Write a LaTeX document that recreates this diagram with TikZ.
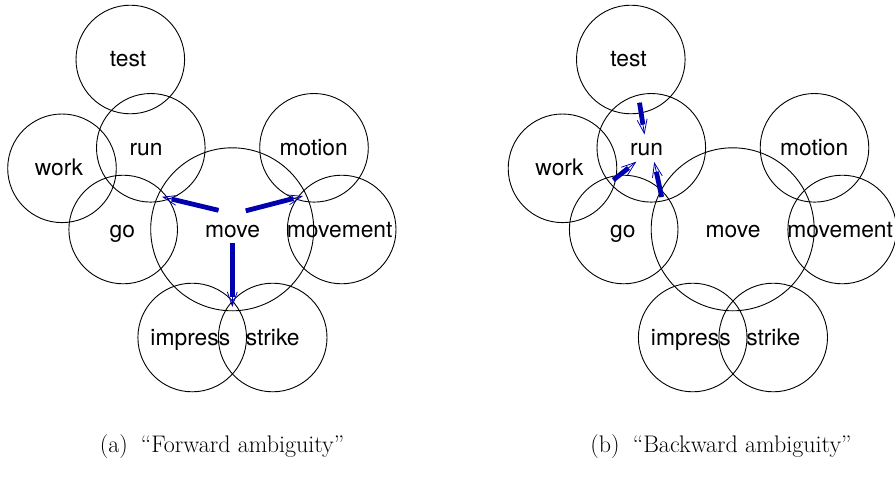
\documentclass[tikz,border=0pt]{standalone}
\usepackage{fontspec}
\newfontfamily\labelfont{TeX Gyre Heros}
\usetikzlibrary{arrows.meta}
\definecolor{arrowblue}{RGB}{0,0,175}
\tikzset{
  wc/.style={draw=black, line width=0.9pt, circle, inner sep=0pt, minimum size=108.6pt},
  bigwc/.style={wc, minimum size=163pt},
  lbl/.style={anchor=base, inner sep=0pt, font=\labelfont\fontsize{22.8}{26}\selectfont},
  captiontext/.style={anchor=base, inner sep=0pt, font=\fontsize{24}{29}\selectfont},
  barbline/.style={draw=arrowblue, line width=0.8pt, -{Straight Barb[length=14pt,width=10pt,line width=0.8pt]}},
  shaft/.style={draw=arrowblue, line width=4.8pt, shorten >=10pt},
}
\begin{document}
\begin{tikzpicture}[x=1pt, y=-1pt]
\useasboundingbox (0,0) rectangle (895,477);

% ---------- (a) forward ambiguity ----------
\begin{scope}
  \node[wc] (test) at (130.3,59.5) {};
  \node[wc] (run) at (150.8,147.8) {};
  \node[wc] (work) at (62,168.3) {};
  \node[wc] (motion) at (314,147.8) {};
  \node[wc] (go) at (123.2,229.5) {};
  \node[bigwc] (move) at (232.2,229.3) {};
  \node[wc] (movement) at (341.7,229.5) {};
  \node[wc] (impress) at (192.2,337.5) {};
  \node[wc] (strike) at (272.7,337.5) {};

  \node[lbl] at (128,66.7) {test};
  \node[lbl] at (146,155) {run};
  \node[lbl] at (59,175) {work};
  \node[lbl] at (313.7,155) {motion};
  \node[lbl] at (122.3,237.3) {go};
  \node[lbl] at (232.5,237.3) {move};
  \node[lbl] at (339.7,237.3) {movement};
  \node[lbl] at (190.3,345) {impress};
  \node[lbl] at (272.7,345) {strike};

  \coordinate (fa1) at (218.5,210.3);
  \coordinate (fa2) at (162,196.8);
  \coordinate (fb1) at (245.8,210.8);
  \coordinate (fb2) at (303,196);
  \coordinate (fc1) at (232.3,243.3);
  \coordinate (fc2) at (232.3,307);
  \foreach \s/\e in {fa1/fa2, fb1/fb2, fc1/fc2} {
    \draw[barbline] (\s) -- (\e);
    \draw[shaft] (\s) -- (\e);
  }

  \node[captiontext] at (222,452) {(a)\hspace{0.55em}“Forward ambiguity”};
\end{scope}

% ---------- (b) backward ambiguity ----------
\begin{scope}[xshift=500.5pt]
  \node[wc] (test2) at (130.3,59.5) {};
  \node[wc] (run2) at (150.8,147.8) {};
  \node[wc] (work2) at (62,168.3) {};
  \node[wc] (motion2) at (314,147.8) {};
  \node[wc] (go2) at (123.2,229.5) {};
  \node[bigwc] (move2) at (232.2,229.3) {};
  \node[wc] (movement2) at (341.7,229.5) {};
  \node[wc] (impress2) at (192.2,337.5) {};
  \node[wc] (strike2) at (272.7,337.5) {};

  \node[lbl] at (128,66.7) {test};
  \node[lbl] at (146,155) {run};
  \node[lbl] at (59,175) {work};
  \node[lbl] at (313.7,155) {motion};
  \node[lbl] at (122.3,237.3) {go};
  \node[lbl] at (232.5,237.3) {move};
  \node[lbl] at (339.7,237.3) {movement};
  \node[lbl] at (190.3,345) {impress};
  \node[lbl] at (272.7,345) {strike};

  \coordinate (ba1) at (139,102.7);
  \coordinate (ba2) at (144,134.5);
  \coordinate (bb1) at (112.8,180);
  \coordinate (bb2) at (135.8,161.7);
  \coordinate (bc1) at (161.2,197);
  \coordinate (bc2) at (153.7,162);
  \foreach \s/\e in {ba1/ba2, bb1/bb2, bc1/bc2} {
    \draw[barbline] (\s) -- (\e);
    \draw[shaft] (\s) -- (\e);
  }

  \node[captiontext] at (220.5,452) {(b)\hspace{0.55em}“Backward ambiguity”};
\end{scope}
\end{tikzpicture}
\end{document}
